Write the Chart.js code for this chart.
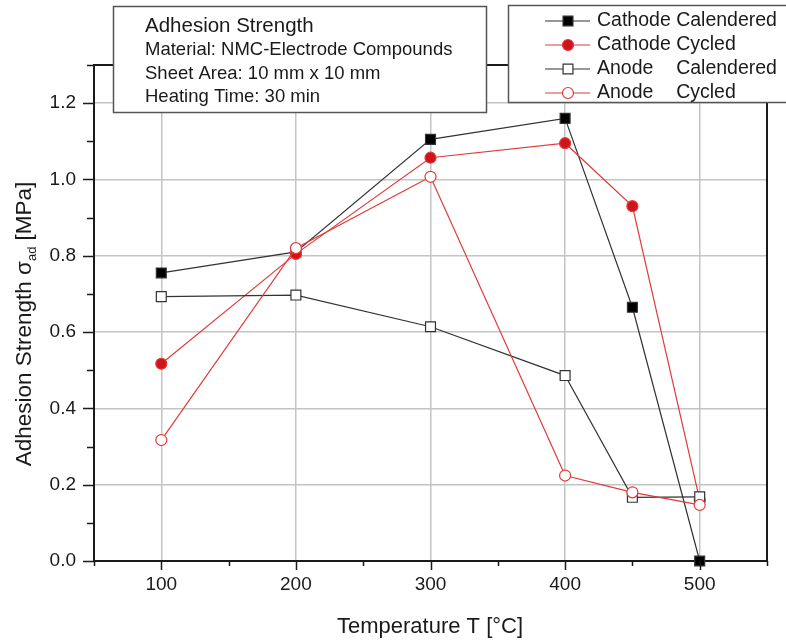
<!DOCTYPE html>
<html>
<head>
<meta charset="utf-8">
<script src="https://cdn.jsdelivr.net/npm/chart.js@4/dist/chart.umd.min.js"></script>
<style>
  html, body { margin: 0; padding: 0; background: #fff; }
  #wrap { width: 786px; height: 643px; }
</style>
</head>
<body>
<div id="wrap"><canvas id="chart" width="786" height="643"></canvas></div>
<script>
// temperatures [°C] and adhesion strength [MPa]
var temps = [100, 200, 300, 400, 450, 500];
var cathodeCalendered = [0.755, 0.81, 1.105, 1.16, 0.665, 0.0];
var cathodeCycled     = [0.517, 0.805, 1.057, 1.095, 0.93, 0.16];
var anodeCalendered   = [0.693, 0.697, 0.614, 0.486, 0.167, 0.168];
var anodeCycled       = [0.317, 0.82, 1.007, 0.224, 0.18, 0.147];

var seriesNames = ["Cathode Calendered", "Cathode Cycled", "Anode    Calendered", "Anode    Cycled"];
var infoLines = ["Adhesion Strength", "Material: NMC-Electrode Compounds", "Sheet Area: 10 mm x 10 mm", "Heating Time: 30 min"];

var FONT = "'Liberation Sans', Arial, sans-serif";
var BLACK = "#333";
var RED = "#e03a3a";
var RED_FILL = "#d0141c";

function pts(vals) {
  return temps.map(function (t, i) { return { x: t, y: vals[i] }; });
}

function series(label, vals, color, fill, style, radius, order) {
  return {
    label: label,
    data: pts(vals),
    borderColor: color,
    borderWidth: 1.2,
    pointStyle: style,
    pointRadius: radius,
    pointHoverRadius: radius,
    pointBackgroundColor: fill,
    pointBorderColor: color,
    pointBorderWidth: 1.2,
    tension: 0,
    clip: false,
    order: order
  };
}

var isMajorY = function (v) { return Math.round(v * 10) % 2 === 0; };
var isMajorX = function (v) { return Math.round(v) % 100 === 0; };

var extras = {
  id: "extras",
  afterDraw: function (chart) {
    var ctx = chart.ctx;
    var a = chart.chartArea;
    var xs = chart.scales.x, ys = chart.scales.y;
    ctx.save();

    // frame top and right
    ctx.strokeStyle = "#1a1a1a";
    ctx.lineWidth = 2;
    ctx.beginPath();
    ctx.moveTo(a.left, a.top); ctx.lineTo(a.right, a.top); ctx.lineTo(a.right, a.bottom);
    ctx.stroke();

    // ticks
    ctx.lineWidth = 1.5;
    ctx.beginPath();
    for (var v = 50; v <= 550; v += 50) {
      var px = Math.round(xs.getPixelForValue(v)) + 0.5;
      ctx.moveTo(px, a.bottom);
      ctx.lineTo(px, a.bottom + (isMajorX(v) ? 9 : 5));
    }
    for (var k = 0; k <= 13; k++) {
      var py = Math.round(ys.getPixelForValue(k / 10)) + 0.5;
      ctx.moveTo(a.left, py);
      ctx.lineTo(a.left - (k % 2 === 0 ? 11 : 7), py);
    }
    ctx.stroke();

    // axis titles
    ctx.fillStyle = "#1a1a1a";
    ctx.textBaseline = "middle";
    ctx.textAlign = "center";
    ctx.font = "22px " + FONT;
    ctx.fillText("Temperature T [°C]", 430, 627);

    ctx.save();
    ctx.translate(25, 324);
    ctx.rotate(-Math.PI / 2);
    ctx.textAlign = "left";
    var p1 = "Adhesion Strength ", p2 = "σ", p3 = "ad", p4 = " [MPa]";
    ctx.font = "22.5px " + FONT;
    var w1 = ctx.measureText(p1).width, w2 = ctx.measureText(p2).width, w4 = ctx.measureText(p4).width;
    ctx.font = "13px " + FONT;
    var w3 = ctx.measureText(p3).width;
    var x0 = -(w1 + w2 + w3 + w4) / 2;
    ctx.font = "22.5px " + FONT;
    ctx.fillText(p1, x0, 0);
    ctx.fillText(p2, x0 + w1, 0);
    ctx.font = "13px " + FONT;
    ctx.fillText(p3, x0 + w1 + w2, 7);
    ctx.font = "22.5px " + FONT;
    ctx.fillText(p4, x0 + w1 + w2 + w3, 0);
    ctx.restore();

    // info box
    ctx.fillStyle = "#fff";
    ctx.fillRect(113, 6, 374, 107);
    ctx.strokeStyle = "#555";
    ctx.lineWidth = 1.5;
    ctx.strokeRect(113.5, 6.5, 373, 106);
    ctx.fillStyle = "#1a1a1a";
    ctx.textAlign = "left";
    ctx.font = "20.5px " + FONT;
    ctx.fillText(infoLines[0], 145, 26);
    ctx.font = "18.5px " + FONT;
    ctx.fillText(infoLines[1], 145, 50);
    ctx.fillText(infoLines[2], 145, 74);
    ctx.fillText(infoLines[3], 145, 97);

    // legend box
    ctx.fillStyle = "#fff";
    ctx.fillRect(508, 5, 290, 98);
    ctx.strokeStyle = "#555";
    ctx.strokeRect(508.5, 5.5, 290, 97);
    var rowsY = [21, 45, 69, 93];
    var ds = chart.data.datasets;
    for (var i = 0; i < ds.length; i++) {
      var d = ds[i], y = rowsY[i];
      ctx.strokeStyle = d.borderColor;
      ctx.lineWidth = 1.2;
      ctx.beginPath(); ctx.moveTo(545, y); ctx.lineTo(590, y); ctx.stroke();
      ctx.fillStyle = d.pointBackgroundColor;
      ctx.beginPath();
      if (d.pointStyle === "rect") {
        var s = d.pointRadius * Math.SQRT1_2;
        ctx.rect(568 - s, y - s, 2 * s, 2 * s);
      } else {
        ctx.arc(568, y, d.pointRadius, 0, Math.PI * 2);
      }
      ctx.fill(); ctx.stroke();
      ctx.fillStyle = "#1a1a1a";
      ctx.font = "19.5px " + FONT;
      var parts = d.label.split(/\s+/);
      ctx.fillText(parts[0], 597, y);
      var off = ctx.measureText("Cathode ").width;
      ctx.fillText(parts[1], 597 + off, y);
    }
    ctx.restore();
  }
};

new Chart(document.getElementById("chart"), {
  type: "line",
  data: {
    datasets: [
      series(seriesNames[0], cathodeCalendered, BLACK, "#000", "rect", 7, 3),
      series(seriesNames[1], cathodeCycled, RED, RED_FILL, "circle", 5.5, 2),
      series(seriesNames[2], anodeCalendered, BLACK, "#fff", "rect", 7, 1),
      series(seriesNames[3], anodeCycled, RED, "#fff", "circle", 5.5, 0)
    ]
  },
  options: {
    responsive: false,
    animation: false,
    layout: { padding: { top: 65, right: 19, left: 0, bottom: 0 } },
    plugins: { legend: { display: false }, tooltip: { enabled: false } },
    scales: {
      x: {
        type: "linear",
        min: 50, max: 550,
        afterFit: function (s) { s.height = 82; },
        border: { display: true, color: "#1a1a1a", width: 2 },
        grid: {
          drawTicks: false,
          lineWidth: 1.5,
          color: function (c) { return c.tick && isMajorX(c.tick.value) ? "#c4c4c4" : "rgba(0,0,0,0)"; }
        },
        ticks: {
          stepSize: 50,
          padding: 12,
          color: "#1a1a1a",
          font: { family: FONT, size: 19 },
          callback: function (v) { return isMajorX(v) ? String(v) : ""; }
        }
      },
      y: {
        min: 0, max: 1.3,
        afterFit: function (s) { s.width = 94; },
        border: { display: true, color: "#1a1a1a", width: 2 },
        grid: {
          drawTicks: false,
          lineWidth: 1.5,
          color: function (c) { return c.tick && isMajorY(c.tick.value) ? "#c4c4c4" : "rgba(0,0,0,0)"; }
        },
        ticks: {
          stepSize: 0.1,
          padding: 18,
          color: "#1a1a1a",
          font: { family: FONT, size: 19 },
          callback: function (v) { return isMajorY(v) ? v.toFixed(1) : ""; }
        }
      }
    }
  },
  plugins: [extras]
});
</script>
</body>
</html>
